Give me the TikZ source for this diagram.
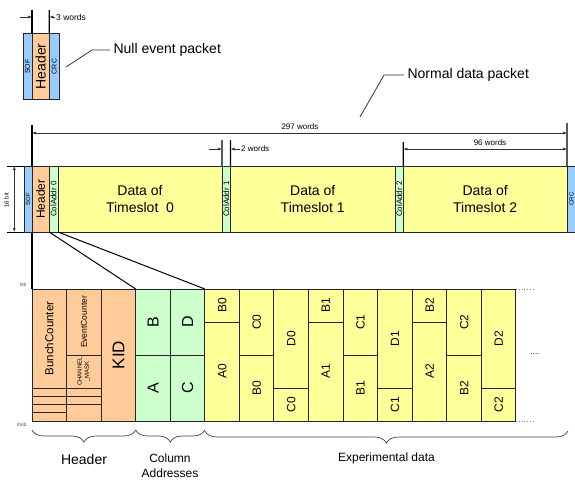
\documentclass[tikz,border=0pt]{standalone}
\usepackage{fontspec}
\setmainfont{Liberation Sans}
\usetikzlibrary{positioning,arrows.meta,decorations.pathreplacing}
\definecolor{sofblue}{HTML}{99CCFF}
\definecolor{hdrorange}{HTML}{FFCC99}
\definecolor{addrgreen}{HTML}{CCFFCC}
\definecolor{datayellow}{HTML}{FFFF99}
\newcommand{\fsz}[1]{\fontsize{#1}{#1}\selectfont}
\newcommand{\vtext}[2]{\rotatebox{90}{\fsz{#1}#2}}

\begin{document}
\begin{tikzpicture}[x=1pt,y=-1pt,
    fld/.style={draw=black!85, line width=1pt, inner sep=0pt, outer sep=0pt, minimum height=66pt},
    sof/.style={fld, fill=sofblue},
    hdr/.style={fld, fill=hdrorange},
    addr/.style={fld, fill=addrgreen},
    dat/.style={fld, fill=datayellow, align=center, font=\fontsize{14}{17}\selectfont},
    cell/.style={draw=black!85, line width=1pt, inner sep=0pt, outer sep=0pt, minimum width=34.57pt, anchor=north west},
    dim/.style={draw=black!80, line width=0.6pt},
    tip/.style={dim, -{Latex[length=4pt,width=3pt]}},
    tips/.style={dim, {Latex[length=4pt,width=3pt]}-{Latex[length=4pt,width=3pt]}},
    tick/.style={draw=black, line width=1.2pt},
    brc/.style={draw=black!75, line width=0.7pt, decorate, decoration={brace, mirror, amplitude=12pt}},
    small/.style={inner sep=1pt, font=\fsz{#1}}]
  \useasboundingbox (0,0) rectangle (575,479);

  % null event packet
  \coordinate (nt0) at (32,10);
  \coordinate (nt1) at (49.3,10);
  \node[sof, minimum width=9pt, anchor=north west] (nsof) at (23,33.5) {\vtext{7}{SOF}};
  \node[hdr, minimum width=17.3pt, right=0pt of nsof] (nhdr) {\vtext{14}{Header}};
  \node[sof, minimum width=10pt, right=0pt of nhdr] (ncrc) {\vtext{7}{CRC}};
  \draw[tick] (nt0) -- (nhdr.north west);
  \draw[tick] (nt1) -- (nhdr.north east);
  \coordinate (na0) at (20,17);
  \coordinate (na1) at (32,17);
  \coordinate (na2) at (49.3,17);
  \node[small=8.5, anchor=west] (nwords) at (55,17) {3 words};
  \draw[tip] (na0) -- (na1);
  \draw[tip] (nwords.west) -- (na2);
  \coordinate (nptr) at (66,67);
  \node[anchor=west, font=\fsz{14}] (nulltxt) at (110,50) {Null event packet};
  \draw[dim, line width=0.8pt] (nptr) -- (92,50) -- (nulltxt.west);

  % normal data packet
  \coordinate (ptr) at (360,117);
  \node[anchor=west, font=\fsz{14}] (normtxt) at (404,75) {Normal data packet};
  \draw[dim, line width=0.8pt] (ptr) -- (384,75) -- (normtxt.west);

  \coordinate (t297l) at (32,125);
  \coordinate (t297r) at (567,123);
  \coordinate (t2l) at (222,140);
  \coordinate (t2r) at (230.5,140);
  \coordinate (t96) at (403.3,142);

  % line down to the detail (behind the packet)
  \draw[tick] (t297l) -- (32,289);

  \node[sof, minimum width=8pt, anchor=north west] (sof) at (24,166) {\vtext{6}{SOF}};
  \node[hdr, minimum width=17.2pt, right=0pt of sof] (hdr) {\vtext{12}{Header}};
  \node[addr, minimum width=8.8pt, right=0pt of hdr] (ca0) {\vtext{8}{ColAddr 0}};
  \node[dat, minimum width=164pt, right=0pt of ca0] (ts0) {Data of\\Timeslot\ \ 0};
  \node[addr, minimum width=8.5pt, right=0pt of ts0] (ca1) {\vtext{8}{ColAddr 1}};
  \node[dat, minimum width=164.5pt, right=0pt of ca1] (ts1) {Data of\\Timeslot 1};
  \node[addr, minimum width=8.3pt, right=0pt of ts1] (ca2) {\vtext{8}{ColAddr 2}};
  \node[dat, minimum width=163.7pt, right=0pt of ca2] (ts2) {Data of\\Timeslot 2};
  \node[sof, minimum width=9pt, right=0pt of ts2] (crc) {\vtext{6}{CRC}};

  % 16 bit
  \coordinate (bt) at (7,166);
  \coordinate (bb) at (7,232);
  \draw[line width=1pt] (bt) -- (sof.north west);
  \draw[line width=1pt] (bb) -- (sof.south west);
  \draw[tips] (14.3,166) -- (14.3,232);
  \node[rotate=90, small=6] (bits) at (6.5,200) {16 bit};

  % dimensions
  \draw[tick] (t297r) -- (ts2.north east);
  \draw[tips] (32,133) -- (567,133);
  \node[small=8] (w297) at (300,127) {297 words};
  \draw[tick] (t2l) -- (ca1.north west);
  \draw[tick] (t2r) -- (ca1.north east);
  \draw[tip] (209,149) -- (222,149);
  \node[small=8, anchor=west] (w2) at (240,149) {2 words};
  \draw[tip] (w2.west) -- (230.5,149);
  \draw[tick] (t96) -- (ts2.north west);
  \draw[tips] (403.3,149) -- (567,149);
  \node[small=8] (w96) at (490,143) {96 words};

  % detail: header words
  \node[cell, fill=hdrorange, minimum height=99pt] (bunch) at (32,289) {\vtext{11.5}{BunchCounter}};
  \foreach \k in {0,1,2,3}
    \node[cell, fill=hdrorange, minimum height=8.25pt] (bs\k) at (32,388+8.25*\k) {};
  \node[cell, fill=hdrorange, minimum height=66pt] (evt) at (66.57,289) {\vtext{8.5}{EventCounter}};
  \node[cell, fill=hdrorange, minimum height=33pt] (mask) at (66.57,355)
    {\rotatebox{90}{\fsz{6}\shortstack{CHANNEL\\\_MASK}}};
  \node[cell, fill=hdrorange, minimum height=8.25pt] (es0) at (66.57,388) {};
  \node[cell, fill=hdrorange, minimum height=8.25pt] (es1) at (66.57,396.25) {};
  \node[cell, fill=hdrorange, minimum height=16.5pt] (es2) at (66.57,404.5) {};
  \node[cell, fill=hdrorange, minimum height=132pt] (kid) at (101.14,289) {\vtext{17}{KID}};

  % detail: column addresses
  \node[cell, fill=addrgreen, minimum height=66pt] (cb) at (135.71,289) {\vtext{16}{B}};
  \node[cell, fill=addrgreen, minimum height=66pt] (cla) at (135.71,355) {\vtext{16}{A}};
  \node[cell, fill=addrgreen, minimum height=66pt] (cd) at (170.28,289) {\vtext{16}{D}};
  \node[cell, fill=addrgreen, minimum height=66pt] (cc) at (170.28,355) {\vtext{16}{C}};

  % detail: experimental data
  \foreach \i in {0,1,2} {
    \pgfmathsetmacro{\xa}{204.85+103.71*\i}
    \pgfmathsetmacro{\xb}{\xa+34.57}
    \pgfmathsetmacro{\xc}{\xa+69.14}
    \node[cell, fill=datayellow, minimum height=33pt] (ta\i) at (\xa,289) {\vtext{12}{B\i}};
    \node[cell, fill=datayellow, minimum height=99pt] (ba\i) at (\xa,322) {\vtext{12}{A\i}};
    \node[cell, fill=datayellow, minimum height=66pt] (tb\i) at (\xb,289) {\vtext{12}{C\i}};
    \node[cell, fill=datayellow, minimum height=66pt] (bb\i) at (\xb,355) {\vtext{12}{B\i}};
    \node[cell, fill=datayellow, minimum height=99pt] (tc\i) at (\xc,289) {\vtext{12}{D\i}};
    \node[cell, fill=datayellow, minimum height=33pt] (bc\i) at (\xc,388) {\vtext{12}{C\i}};
  }
  \draw[dotted, gray, line width=0.8pt] (tc2.north east) -- ++(17,0);
  \draw[dotted, gray, line width=0.8pt] (bc2.south east) -- ++(17,0);
  \node[small=8] (more) at (535,354) {....};

  % zoom lines
  \draw[line width=1pt] (hdr.south east) -- (kid.north east);
  \draw[line width=1pt] (ca0.south east) -- (cd.north east);

  \node[small=5, anchor=east, text=black!70] (lsb) at (27.5,285) {lsb};
  \node[small=5, anchor=east, text=black!70] (msb) at (27.5,424.5) {msb};

  % braces
  \draw[brc] ([yshift=-9pt]bs3.south west) -- ([yshift=-9pt]kid.south east);
  \draw[brc] ([yshift=-9pt]kid.south east) -- ([yshift=-9pt]cc.south east);
  \draw[brc] ([yshift=-10pt]cc.south east) -- ([xshift=52pt,yshift=-10pt]bc2.south east);
  \node[font=\fsz{14}] (hdrlbl) at (84,459) {Header};
  \node[font=\fontsize{12}{15}\selectfont, align=center] (addrlbl) at (170,465.5) {Column\\Addresses};
  \node[font=\fsz{12}] (explbl) at (386.5,458) {Experimental data};
\end{tikzpicture}
\end{document}
